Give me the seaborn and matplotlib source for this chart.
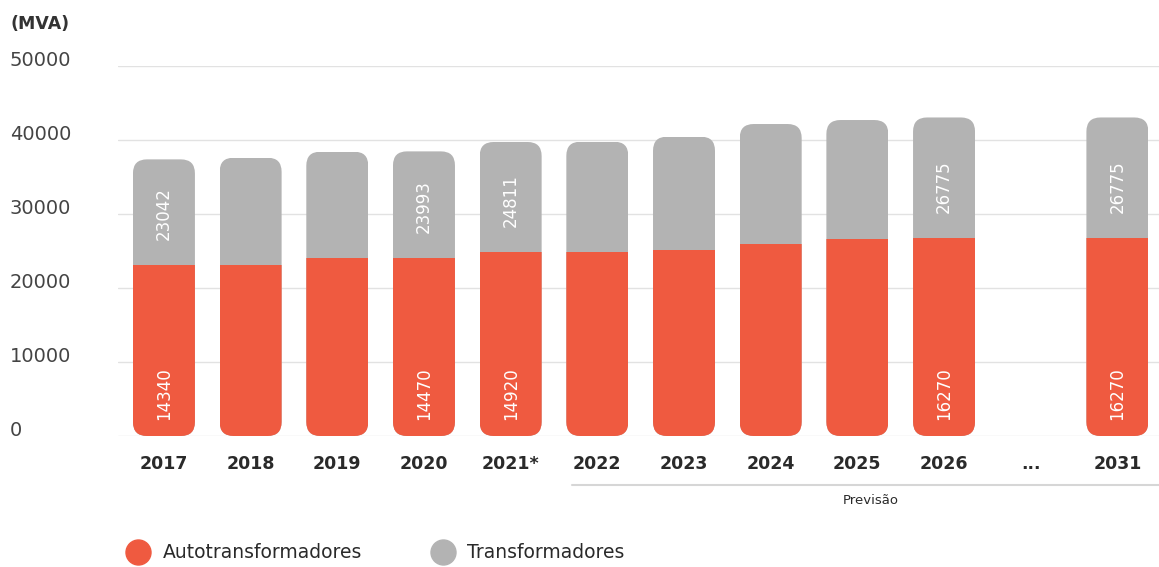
import matplotlib as mpl
import matplotlib.pyplot as plt
plt.switch_backend('Agg')
import seaborn as sns
import numpy as np
import pandas as pd
from matplotlib.patches import FancyBboxPatch
from matplotlib.lines import Line2D

# x slots (the '...' slot stays empty)
years = ['2017', '2018', '2019', '2020', '2021*', '2022', '2023', '2024', '2025', '2026', '...', '2031']
dataYears = ['2017', '2018', '2019', '2020', '2021*', '2022', '2023', '2024', '2025', '2026', '2031']
# segment heights as drawn (MVA)
redVals = [23042, 23110, 24000, 23993, 24811, 24900, 25130, 25950, 26580, 26775, 26775]
grayVals = [14340, 14500, 14420, 14470, 14920, 14870, 15320, 16210, 16120, 16270, 16270]
# numbers printed inside the bars
redLabels = ['14340', '', '', '14470', '14920', '', '', '', '', '16270', '16270']
grayLabels = ['23042', '', '', '23993', '24811', '', '', '', '', '26775', '26775']
yTicks = [0, 10000, 20000, 30000, 40000, 50000]

RED = '#EF5A40'
GRAY = '#B3B3B3'
TXT = '#2a2a2a'

sns.set_style('white')
mpl.rcParams['font.family'] = ['DejaVu Sans']

df = pd.DataFrame({'ano': dataYears, 'red': redVals,
                   'total': np.array(redVals) + np.array(grayVals)})

fig = plt.figure(figsize=(11.59, 5.67), dpi=100)
ax = fig.add_axes([118 / 1159, 1 - 436 / 567, 1 - 118 / 1159, (436 - 66) / 567])

barW = 0.715
sns.barplot(data=df, x='ano', y='total', order=years, color=GRAY, saturation=1,
            width=barW, linewidth=0, ax=ax, zorder=3)
sns.barplot(data=df, x='ano', y='red', order=years, color=RED, saturation=1,
            width=barW, linewidth=0, ax=ax, zorder=3)

ax.set_xlim(-0.53, 11.48)
ax.set_ylim(0, 50000)

# rounded ends of every stacked column via a clip path
p0 = ax.transData.transform([[0, 0], [1, 10000]])
pxX = p0[1, 0] - p0[0, 0]
pxY = (p0[1, 1] - p0[0, 1]) / 10000
asp = pxX / pxY
rad = 14 / pxX
totals = dict(zip(dataYears, df['total']))
for p in ax.patches:
    cx = p.get_x() + p.get_width() / 2
    slot = years[int(round(cx))]
    if slot not in totals:
        continue
    clip = FancyBboxPatch((p.get_x(), 0), p.get_width(), totals[slot],
                          boxstyle='round,pad=0,rounding_size=%f' % rad,
                          mutation_aspect=asp, transform=ax.transData)
    p.set_clip_path(clip)

for i, yr in enumerate(dataYears):
    pos = years.index(yr)
    ax.text(pos, 2200, redLabels[i], rotation=90, ha='center', va='bottom',
            color='white', fontsize=12, zorder=5)
    ax.text(pos, redVals[i] + 3400, grayLabels[i], rotation=90, ha='center', va='bottom',
            color='white', fontsize=12, zorder=5)

ax.set_yticks(yTicks)
ax.set_yticklabels([str(v) for v in yTicks])
ax.yaxis.grid(True, color='#e2e2e2', lw=1, zorder=0)
ax.tick_params(axis='y', length=0, pad=78, labelsize=14, labelcolor='#444444')
for t in ax.get_yticklabels():
    t.set_ha('left')
    t.set_va('baseline')
ax.tick_params(axis='x', length=0, pad=14, labelsize=12.5, labelcolor=TXT)
for t in ax.get_xticklabels():
    t.set_fontweight('bold')
ax.set_xlabel('')
ax.set_ylabel('')
sns.despine(ax=ax, left=True, bottom=True)

fig.text(10 / 1159, 1 - 24 / 567, '(MVA)', fontsize=12.5, fontweight='bold',
         color='#333333', va='center', ha='left')

# forecast bracket
fig.add_artist(Line2D([572 / 1159, 1], [1 - 485 / 567] * 2, color='#d6d6d6', lw=1.5))
fig.text(871 / 1159, 1 - 501 / 567, 'Previsão', fontsize=9.5, color=TXT,
         ha='center', va='center')

handles = [Line2D([], [], marker='o', ls='', markersize=18, markerfacecolor=RED,
                  markeredgecolor=RED, label='Autotransformadores'),
           Line2D([], [], marker='o', ls='', markersize=18, markerfacecolor=GRAY,
                  markeredgecolor=GRAY, label='Transformadores')]
fig.legend(handles=handles, loc='center left', bbox_to_anchor=(127 / 1159, 1 - 553 / 567),
           ncol=2, frameon=False, fontsize=13.5, handletextpad=0.7, columnspacing=3.7,
           borderaxespad=0, borderpad=0, handlelength=1.2, labelcolor=TXT)

plt.savefig('out.png', dpi=100)
